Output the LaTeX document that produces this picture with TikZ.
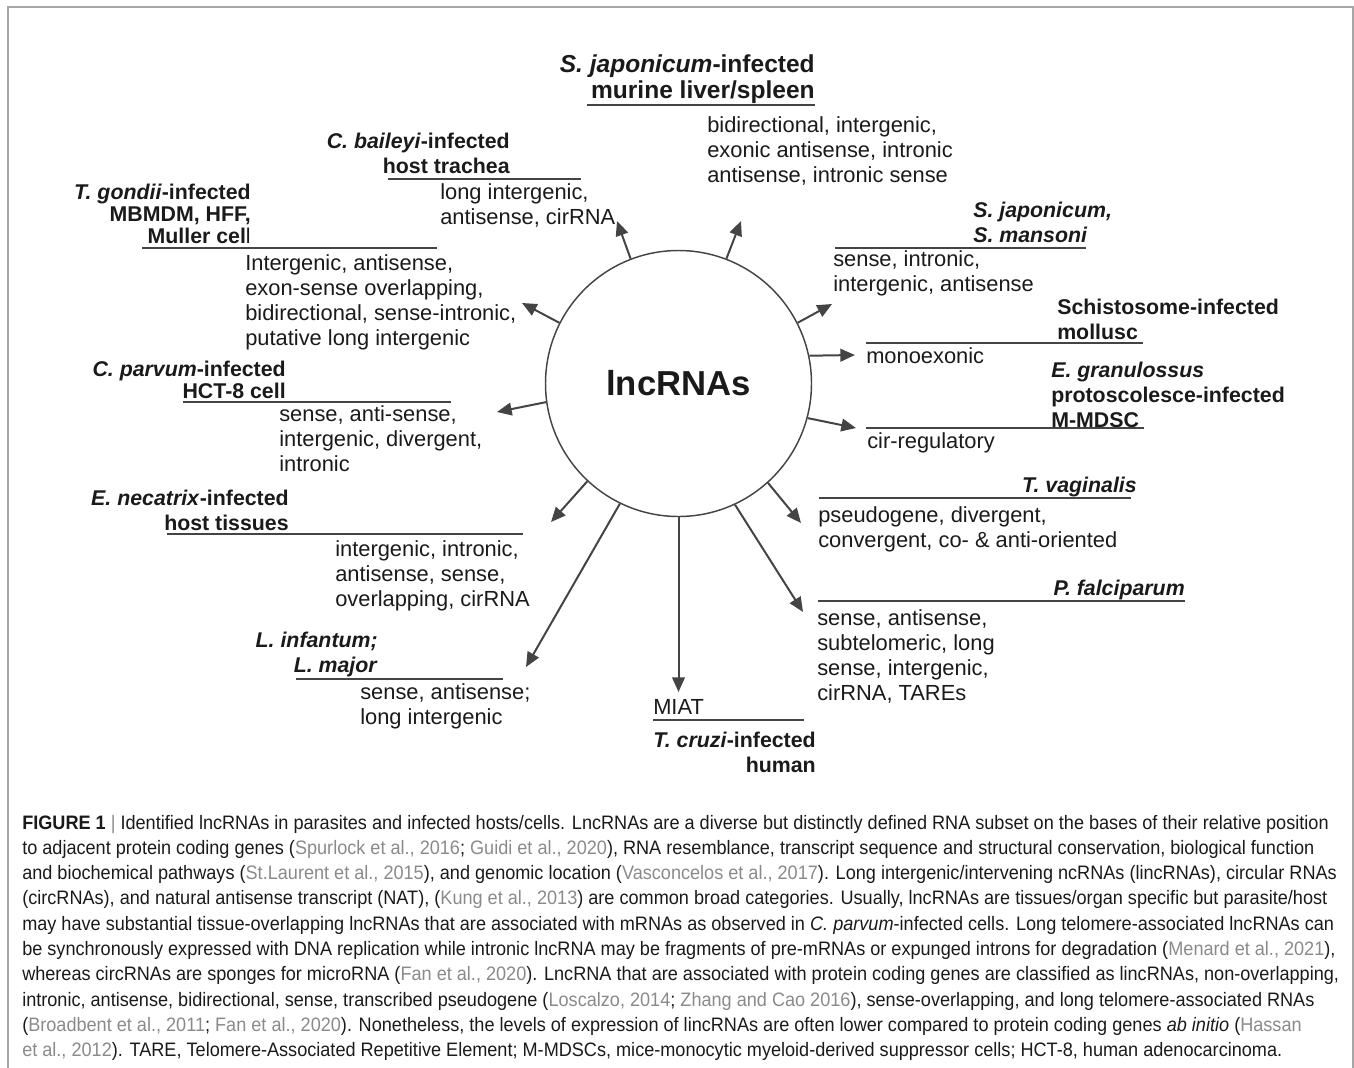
\documentclass[tikz,border=0pt]{standalone}
\usepackage{fontspec}
\setmainfont{Liberation Sans}
\newfontfamily\capfont[FakeStretch=0.93]{Liberation Sans}
\usetikzlibrary{arrows.meta}
\definecolor{ink}{HTML}{1A1A1A}
\definecolor{ink2}{HTML}{444444}
\definecolor{framegray}{HTML}{A6A6A6}
\definecolor{cite}{HTML}{8A8A8A}
\newcommand{\ct}[1]{\textcolor{cite}{#1}}
\tikzset{
  body/.style={font=\fontsize{16.4}{18.75}\selectfont, align=left, inner sep=0pt, anchor=north west, text=ink},
  hdr/.style={font=\bfseries\fontsize{16}{18.75}\selectfont, inner sep=0pt, text=ink},
  hdrR/.style={hdr, align=right, anchor=north east},
  hdrL/.style={hdr, align=left, anchor=north west},
  tightR/.style={hdrR, font=\bfseries\fontsize{16}{16.5}\selectfont},
  bigR/.style={hdrR, font=\bfseries\fontsize{18.4}{19.5}\selectfont},
  uline/.style={draw=ink2, line width=1pt},
  arr/.style={draw=ink2, line width=1.5pt, -{Triangle[length=11pt,width=9.5pt]}},
  capline/.style={font=\capfont\fontsize{14.6}{17}\selectfont, text=ink, anchor=base west, inner sep=0pt}
}
\begin{document}
\begin{tikzpicture}[x=0.75pt,y=-0.75pt]
\useasboundingbox (0,0) rectangle (1354,1068);
\draw[framegray, line width=1.5pt] (8,1068) -- (8,6.5) -- (1353,6.5) -- (1353,1068);

% central circle
\node[circle, draw=ink2, line width=1.1pt, minimum size=199.5pt, inner sep=0pt,
      font=\bfseries\fontsize{26}{30}\selectfont, text=ink] (c) at (678.5,383.5) {lncRNAs};

% arrow tips
\coordinate (t1) at (741,221);
\coordinate (t2) at (617,221);
\coordinate (t3) at (522,303);
\coordinate (t4) at (497,412);
\coordinate (t5) at (551,522);
\coordinate (t6) at (526,667);
\coordinate (t7) at (678.5,692);
\coordinate (t8) at (803,612);
\coordinate (t9) at (801,523);
\coordinate (t10) at (856,428);
\coordinate (t11) at (855,355);
\coordinate (t12) at (832,304);

\draw[arr] (c.69) -- (t1);
\draw[arr] (c.111.5) -- (t2);
\draw[arr] (c.153.5) -- (t3);
\draw[arr] (c.188.5) -- (t4);
\draw[arr] (c.227.5) -- (t5);
\draw[arr] (c.244) -- (t6);
\draw[arr] (c.270) -- (t7);
\draw[arr] (c.295.5) -- (t8);
\draw[arr] (c.312) -- (t9);
\draw[arr] (c.345.5) -- (t10);
\draw[arr] (c.12) -- (t11);
\draw[arr] (c.27) -- (t12);

% 1: S. japonicum-infected murine liver/spleen
\node[bigR] (h1) at (815,54) {\textit{S. japonicum}-infected\\murine liver/spleen};
\draw[uline] (587,105) -- (815,105);
\node[body] (b1) at (707,116) {bidirectional, intergenic,\\exonic antisense, intronic\\antisense, intronic sense};

% 2: C. baileyi
\node[hdrR] (h2) at (510,133) {\textit{C. baileyi}-infected\\host trachea};
\draw[uline] (388,179) -- (581,179);
\node[body] (b2) at (440,183) {long intergenic,\\antisense, cirRNA};

% 3: T. gondii
\node[tightR] (h3) at (251,184) {\textit{T. gondii}-infected\\MBMDM, HFF,\\Muller cel\textmd{l}};
\draw[uline] (142,248) -- (437,248);
\node[body] (b3) at (245,254) {Intergenic, antisense,\\exon-sense overlapping,\\bidirectional, sense-intronic,\\putative long intergenic};

% 4: C. parvum
\node[tightR] (h4) at (286,361) {\textit{C. parvum}-infected\\HCT-8 cell};
\draw[uline] (183,402) -- (451,402);
\node[body] (b4) at (279,405) {sense, anti-sense,\\intergenic, divergent,\\intronic};

% 5: E. necatrix
\node[hdrR] (h5) at (289,490) {\textit{E. necatrix}-infected\\host tissues};
\draw[uline] (167,534) -- (523,534);
\node[body] (b5) at (335,540) {intergenic, intronic,\\antisense, sense,\\overlapping, cirRNA};

% 6: L. infantum; L. major
\node[hdrR] (h6) at (378,632) {\textit{L. infantum;}\\\textit{L. major}};
\draw[uline] (296,679) -- (503,679);
\node[body] (b6) at (360,683) {sense, antisense;\\long intergenic};

% 7: T. cruzi
\node[body] (b7) at (653,699) {MIAT};
\draw[uline] (653,720) -- (804,720);
\node[hdrR] (h7) at (816,732) {\textit{T. cruzi}-infected\\human};

% 8: P. falciparum
\node[hdrR] (h8) at (1185,580) {\textit{P. falciparum}};
\draw[uline] (818,601) -- (1185,601);
\node[body] (b8) at (817,609) {sense, antisense,\\subtelomeric, long\\sense, intergenic,\\cirRNA, TAREs};

% 9: T. vaginalis
\node[hdrR] (h9) at (1137,477) {\textit{T. vaginalis}};
\draw[uline] (819,498) -- (1131,498);
\node[body] (b9) at (818,506) {pseudogene, divergent,\\convergent, co- \& anti-oriented};

% 10: E. granulossus
\node[hdrL] (h10) at (1051,362) {\textit{E. granulossus}\\protoscolesce-infected\\M-MDSC};
\draw[uline] (866,428) -- (1144,428);
\node[body] (b10) at (867,432) {cir-regulatory};

% 11: Schistosome
\node[hdrL] (h11) at (1057,299) {Schistosome-infected\\mollusc};
\draw[uline] (866,343) -- (1143,343);
\node[body] (b11) at (866,347) {monoexonic};

% 12: S. japonicum, S. mansoni
\node[hdrL] (h12) at (973,202) {\textit{S. japonicum,}\\\textit{S. mansoni}};
\draw[uline] (835,248) -- (1086,248);
\node[body] (b12) at (833,250) {sense, intronic,\\intergenic, antisense};

% caption
\node[capline] (cap1) at (22,829) {\textbf{FIGURE 1} \textcolor{cite}{|} Identified lncRNAs in parasites and infected hosts/cells. LncRNAs are a diverse but distinctly defined RNA subset on the bases of their relative position};
\node[capline] (cap2) at (22,854.3) {to adjacent protein coding genes (\ct{Spurlock et al., 2016}; \ct{Guidi et al., 2020}), RNA resemblance, transcript sequence and structural conservation, biological function};
\node[capline] (cap3) at (22,879.6) {and biochemical pathways (\ct{St.Laurent et al., 2015}), and genomic location (\ct{Vasconcelos et al., 2017}). Long intergenic/intervening ncRNAs (lincRNAs), circular RNAs};
\node[capline] (cap4) at (22,904.9) {(circRNAs), and natural antisense transcript (NAT), (\ct{Kung et al., 2013}) are common broad categories. Usually, lncRNAs are tissues/organ specific but parasite/host};
\node[capline] (cap5) at (22,930.2) {may have substantial tissue-overlapping lncRNAs that are associated with mRNAs as observed in \textit{C. parvum}-infected cells. Long telomere-associated lncRNAs can};
\node[capline] (cap6) at (22,955.5) {be synchronously expressed with DNA replication while intronic lncRNA may be fragments of pre-mRNAs or expunged introns for degradation (\ct{Menard et al., 2021}),};
\node[capline] (cap7) at (22,980.8) {whereas circRNAs are sponges for microRNA (\ct{Fan et al., 2020}). LncRNA that are associated with protein coding genes are classified as lincRNAs, non-overlapping,};
\node[capline] (cap8) at (22,1006.1) {intronic, antisense, bidirectional, sense, transcribed pseudogene (\ct{Loscalzo, 2014}; \ct{Zhang and Cao 2016}), sense-overlapping, and long telomere-associated RNAs};
\node[capline] (cap9) at (22,1031.4) {(\ct{Broadbent et al., 2011}; \ct{Fan et al., 2020}). Nonetheless, the levels of expression of lincRNAs are often lower compared to protein coding genes \textit{ab initio} (\ct{Hassan}};
\node[capline] (cap10) at (22,1056.7) {\ct{et al., 2012}). TARE, Telomere-Associated Repetitive Element; M-MDSCs, mice-monocytic myeloid-derived suppressor cells; HCT-8, human adenocarcinoma.};
\end{tikzpicture}
\end{document}
